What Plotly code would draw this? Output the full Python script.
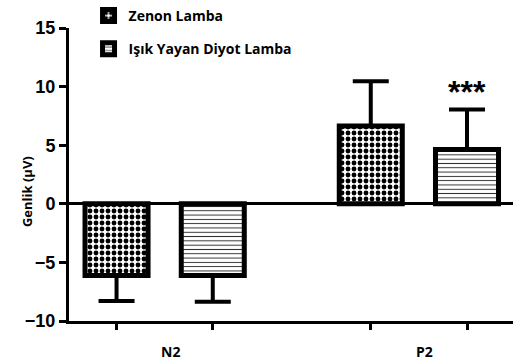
import plotly.graph_objects as go

# ---- data ----
groups = ["N2", "P2"]
series_names = ["Zenon Lamba", "Işık Yayan Diyot Lamba"]
zenon_mean = [-6.12, 6.64]
zenon_err = [2.18, 3.82]
led_mean = [-6.12, 4.63]
led_err = [2.23, 3.42]
y_ticks = [-10, -5, 0, 5, 10, 15]
sig_label = "***"

# ---- layout helpers (positions) ----
group_gap = 2.642
zen_x = [i * group_gap for i in range(len(groups))]
led_x = [x + 1 for x in zen_x]
bar_w = 0.655


def up_down(means, errs):
    plus = [e if m >= 0 else 0 for m, e in zip(means, errs)]
    minus = [e if m < 0 else 0 for m, e in zip(means, errs)]
    return plus, minus


zp, zm = up_down(zenon_mean, zenon_err)
lp, lm = up_down(led_mean, led_err)

fig = go.Figure()
fig.add_trace(go.Bar(
    x=zen_x, y=zenon_mean, width=bar_w, name=series_names[0],
    legendgroup="a",
    marker=dict(color="white", line=dict(color="black", width=5),
                pattern=dict(shape=".", size=6, solidity=0.52,
                             fgcolor="black", bgcolor="white",
                             fillmode="overlay", fgopacity=1)),
    error_y=dict(type="data", symmetric=False, array=zp, arrayminus=zm,
                 color="black", thickness=4, width=18),
))
fig.add_trace(go.Bar(
    x=led_x, y=led_mean, width=bar_w, name=series_names[1],
    legendgroup="b",
    marker=dict(color="white", line=dict(color="black", width=5),
                pattern=dict(shape="-", size=4.3, solidity=0.22,
                             fgcolor="black", bgcolor="white",
                             fillmode="overlay", fgopacity=0.85)),
    error_y=dict(type="data", symmetric=False, array=lp, arrayminus=lm,
                 color="black", thickness=4, width=18),
))

all_x = zen_x + led_x
fig.update_layout(
    width=513, height=362,
    margin=dict(l=69, r=0, t=23, b=41),
    paper_bgcolor="white", plot_bgcolor="white",
    barmode="overlay",
    showlegend=True,
    legend=dict(x=0.044, y=1.097, xanchor="left", yanchor="top",
                bgcolor="rgba(0,0,0,0)", tracegroupgap=12,
                font=dict(family="Open Sans", size=14, color="black", weight="bold")),
    xaxis=dict(range=[-0.494, 4.12], showgrid=False, zeroline=False,
               showline=True, linecolor="black", linewidth=3,
               tickvals=sorted(all_x), ticktext=["" for _ in all_x],
               ticks="outside", ticklen=6, tickwidth=3, tickcolor="black"),
    yaxis=dict(range=[-10, 15], showgrid=False, tickvals=y_ticks,
               zeroline=True, zerolinecolor="black", zerolinewidth=3,
               showline=True, linecolor="black", linewidth=3,
               ticks="outside", ticklen=7, tickwidth=3, tickcolor="black",
               tickfont=dict(family="Liberation Sans", size=18, color="black", weight="bold")),
)

# group labels
for g, zx, lx in zip(groups, zen_x, led_x):
    fig.add_annotation(x=(zx + lx) / 2 + 0.06, y=0, xref="x", yref="paper",
                       yshift=-42, text=g, showarrow=False,
                       font=dict(family="Open Sans", size=14, color="black", weight="bold"))

# y axis title
fig.add_annotation(x=0, y=0.44, xref="paper", yref="paper", xshift=-53,
                   text="Genlik (µV)", textangle=-90, showarrow=False,
                   font=dict(family="Open Sans", size=13, color="black", weight="bold"))

# significance marker
fig.add_annotation(x=led_x[1], y=led_mean[1] + led_err[1], xref="x", yref="y",
                   yanchor="bottom", yshift=-3, text=sig_label, showarrow=False,
                   font=dict(family="Liberation Sans", size=32, color="black", weight="bold"))

fig.write_html("out.html")
